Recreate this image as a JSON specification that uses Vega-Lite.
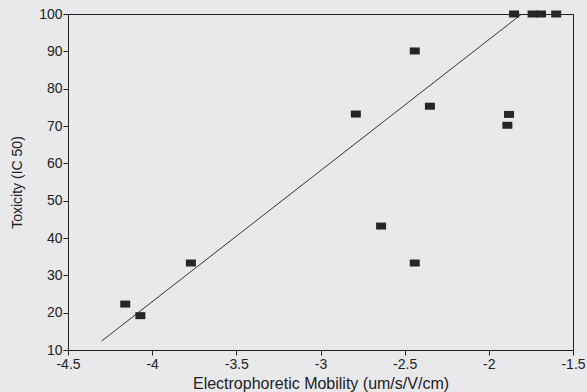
{
  "$schema": "https://vega.github.io/schema/vega-lite/v6.json",
  "width": 505,
  "height": 336,
  "autosize": "none",
  "padding": {"left": 68, "top": 14, "right": 14, "bottom": 42},
  "background": "#e9e8eb",
  "config": {
    "view": {"stroke": "#222222", "strokeWidth": 1},
    "font": "Liberation Sans",
    "axis": {
      "grid": false,
      "domainColor": "#222222",
      "tickColor": "#222222",
      "labelColor": "#222222",
      "titleColor": "#222222",
      "labelFont": "Liberation Sans",
      "titleFont": "Liberation Sans",
      "labelFontSize": 14,
      "titleFontWeight": "normal",
      "tickSize": 5
    }
  },
  "datasets": {
    "points": [
      {"mobility": -4.16, "toxicity": 22.3},
      {"mobility": -4.07, "toxicity": 19.2},
      {"mobility": -3.77, "toxicity": 33.3},
      {"mobility": -2.79, "toxicity": 73.2},
      {"mobility": -2.64, "toxicity": 43.2},
      {"mobility": -2.44, "toxicity": 90.1},
      {"mobility": -2.44, "toxicity": 33.3},
      {"mobility": -2.35, "toxicity": 75.3},
      {"mobility": -1.88, "toxicity": 73.1},
      {"mobility": -1.89, "toxicity": 70.2},
      {"mobility": -1.85, "toxicity": 100},
      {"mobility": -1.74, "toxicity": 100},
      {"mobility": -1.69, "toxicity": 100},
      {"mobility": -1.6, "toxicity": 100}
    ],
    "fit": [
      {"mobility": -4.3, "toxicity": 12.4},
      {"mobility": -1.81, "toxicity": 99.8}
    ]
  },
  "encoding": {
    "x": {
      "field": "mobility",
      "type": "quantitative",
      "scale": {"domain": [-4.5, -1.5], "nice": false, "zero": false},
      "axis": {
        "title": "Electrophoretic Mobility (um/s/V/cm)",
        "titleFontSize": 16,
        "titlePadding": 4,
        "values": [-4.5, -4, -3.5, -3, -2.5, -2, -1.5],
        "labelExpr": "replace(format(datum.value, '~g'), '\u2212', '-')",
        "labelOverlap": false,
        "labelPadding": 2,
        "labelFlush": false
      }
    },
    "y": {
      "field": "toxicity",
      "type": "quantitative",
      "scale": {"domain": [10, 100], "nice": false, "zero": false},
      "axis": {
        "title": "Toxicity (IC 50)",
        "titleFontSize": 14,
        "titlePadding": 14,
        "values": [10, 20, 30, 40, 50, 60, 70, 80, 90, 100],
        "labelOverlap": false,
        "labelPadding": 1,
        "labelFlush": false
      }
    }
  },
  "layer": [
    {
      "data": {"name": "fit"},
      "mark": {"type": "line", "color": "#333333", "strokeWidth": 1}
    },
    {
      "data": {"name": "points"},
      "mark": {
        "type": "point",
        "shape": "M-1,-0.7L1,-0.7L1,0.7L-1,0.7Z",
        "size": 100,
        "filled": true,
        "color": "#262626",
        "opacity": 1
      }
    }
  ]
}
